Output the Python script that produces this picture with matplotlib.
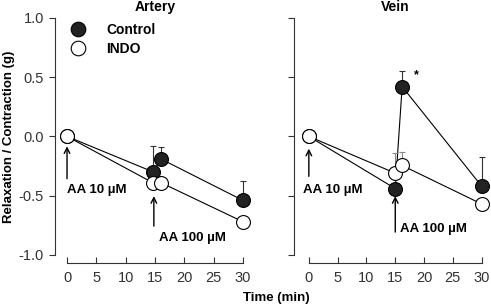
import matplotlib
matplotlib.use('Agg')
import matplotlib.pyplot as plt
from matplotlib.lines import Line2D

plt.rcParams['font.family'] = ['Liberation Sans', 'DejaVu Sans']

# 数据
time_art = [0, 14.7, 16.0, 30]
ctrl_art = [0.0, -0.30, -0.19, -0.54]
ctrl_art_err = [0.0, 0.215, 0.10, 0.165]
time_art_indo = [0, 14.6, 16.0, 30]
indo_art = [0.0, -0.39, -0.39, -0.72]

time_vein_ctrl = [0, 15.0, 16.2, 30]
ctrl_vein = [0.0, -0.44, 0.42, -0.42]
ctrl_vein_err = [0.0, 0.0, 0.13, 0.25]
time_vein_indo = [0, 15.0, 16.2, 30]
indo_vein = [0.0, -0.31, -0.245, -0.57]
indo_vein_err = [0.0, 0.17, 0.115, 0.0]

yticks = [-1.0, -0.5, 0.0, 0.5, 1.0]
xticks = [0, 5, 10, 15, 20, 25, 30]

fig = plt.figure(figsize=(4.91, 3.06), dpi=100)
ax1 = fig.add_axes([0.1365, 0.1667, 0.3585, 0.775])
ax2 = fig.add_axes([0.629, 0.1667, 0.352, 0.775])

mk = dict(marker='o', markersize=10, markeredgecolor='black', markeredgewidth=0.8,
          color='black', linewidth=0.8, clip_on=False)
FS = 9.5


def style(ax, left_out, labels=True):
    ax.set_xlim(0, 30)
    ax.set_ylim(-1, 1)
    for s in ['top', 'right']:
        ax.spines[s].set_visible(False)
    ax.spines['left'].set_position(('outward', left_out))
    ax.spines['bottom'].set_position(('outward', 5.8))
    for s in ['left', 'bottom']:
        ax.spines[s].set_color('#333333')
        ax.spines[s].set_linewidth(0.8)
    ax.set_xticks(xticks)
    ax.set_yticks(yticks)
    ax.set_yticklabels(['%.1f' % v for v in yticks] if labels else [])
    ax.tick_params(length=4, width=0.8, color='#333333', labelcolor='#333333', labelsize=10.5, pad=4)
    ax.tick_params(axis='x', direction='in', pad=6)
    ax.patch.set_visible(False)


# 动脉
ax1.errorbar(time_art, ctrl_art, yerr=[[0] * 4, ctrl_art_err], ecolor='#333333', elinewidth=0.8,
             capsize=2, markerfacecolor='#222222', zorder=3, **mk)
ax1.plot(time_art_indo, indo_art, markerfacecolor='white', zorder=4, **mk)
style(ax1, 8.6)
ax1.set_title('Artery', fontsize=10, fontweight='bold', pad=5)
ax1.set_ylabel('Relaxation / Contraction (g)', fontsize=FS, fontweight='bold', labelpad=3)
ax1.annotate('', xy=(0, -0.06), xytext=(0, -0.38),
             arrowprops=dict(arrowstyle='->', color='black', lw=1))
ax1.text(0, -0.455, 'AA 10 µM', fontsize=FS, fontweight='bold', va='center', ha='left')
ax1.annotate('', xy=(14.8, -0.48), xytext=(14.8, -0.78),
             arrowprops=dict(arrowstyle='->', color='black', lw=1))
ax1.text(15.6, -0.86, 'AA 100 µM', fontsize=FS, fontweight='bold', va='center', ha='left')

handles = [Line2D([], [], ls='none', marker='o', markersize=10.5, markeredgecolor='black',
                  markerfacecolor='#222222', markeredgewidth=0.8),
           Line2D([], [], ls='none', marker='o', markersize=10.5, markeredgecolor='black',
                  markerfacecolor='white', markeredgewidth=0.8)]
ax1.legend(handles, ['Control', 'INDO'], loc='upper left', bbox_to_anchor=(-0.07, 1.02),
           frameon=False, prop={'weight': 'bold', 'size': 10}, handletextpad=1.0,
           labelspacing=0.35, borderpad=0.2)

# 静脉
ax2.errorbar(time_vein_ctrl, ctrl_vein, yerr=[[0] * 4, ctrl_vein_err], ecolor='#333333',
             elinewidth=0.8, capsize=2, markerfacecolor='#222222', zorder=3, **mk)
ax2.errorbar(time_vein_indo, indo_vein, yerr=[[0] * 4, indo_vein_err], ecolor='#888888',
             elinewidth=0.8, capsize=2, markerfacecolor='white', zorder=4, **mk)
style(ax2, 10.8, labels=False)
ax2.set_title('Vein', fontsize=10, fontweight='bold', pad=5)
ax2.annotate('', xy=(0, -0.08), xytext=(0, -0.36),
             arrowprops=dict(arrowstyle='->', color='black', lw=1))
ax2.text(-1.0, -0.455, 'AA 10 µM', fontsize=FS, fontweight='bold', va='center', ha='left')
ax2.annotate('', xy=(15.0, -0.48), xytext=(15.0, -0.83),
             arrowprops=dict(arrowstyle='->', color='black', lw=1))
ax2.text(15.9, -0.78, 'AA 100 µM', fontsize=FS, fontweight='bold', va='center', ha='left')
ax2.text(18.6, 0.52, '*', fontsize=9, fontweight='bold', ha='center', va='center')

fig.text(276 / 491, 1 - 298 / 306, 'Time (min)', fontsize=FS, fontweight='bold', ha='center', va='center')

plt.savefig('out.png', dpi=100)
